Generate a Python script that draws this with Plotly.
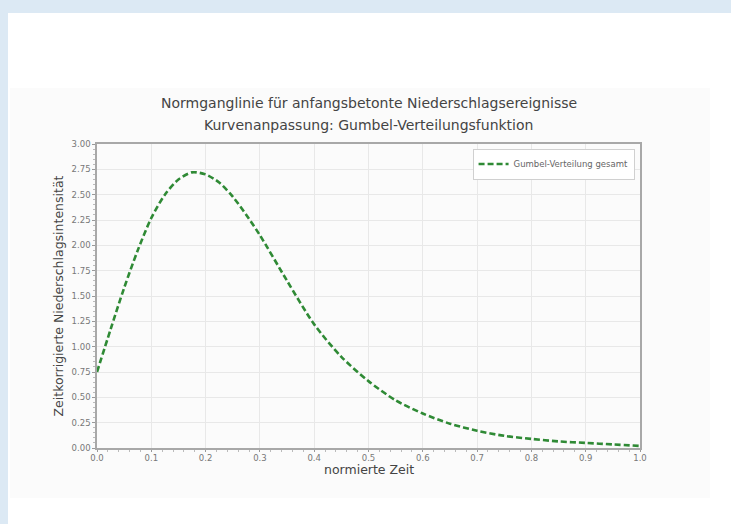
import plotly.graph_objects as go

# data
zeit = [0.0, 0.025, 0.05, 0.075, 0.1, 0.125, 0.15, 0.175, 0.2, 0.225, 0.25, 0.275, 0.3,
        0.35, 0.4, 0.45, 0.5, 0.55, 0.6, 0.65, 0.7, 0.75, 0.8, 0.85, 0.9, 0.95, 1.0]
intensitaet = [0.75, 1.17, 1.58, 1.95, 2.27, 2.50, 2.65, 2.72, 2.70, 2.62, 2.48, 2.30, 2.10,
               1.65, 1.22, 0.90, 0.66, 0.47, 0.34, 0.24, 0.17, 0.12, 0.09, 0.065, 0.05, 0.035, 0.02]
series_name = "Gumbel-Verteilung gesamt"
title_1 = "Normganglinie für anfangsbetonte Niederschlagsereignisse"
title_2 = "Kurvenanpassung: Gumbel-Verteilungsfunktion"
x_title = "normierte Zeit"
y_title = "Zeitkorrigierte Niederschlagsintensität"

W, H = 731, 524
L, R, T, B = 97, 91, 144, 76
PW, PH = W - L - R, H - T - B


def px(x):
    return (x - L) / PW


def py(y):
    return (H - B - y) / PH


fig = go.Figure()
fig.add_trace(go.Scatter(
    x=zeit, y=intensitaet, mode="lines", name=series_name,
    line=dict(color="#2f8a35", width=2.6, dash="6px,3px", shape="spline", smoothing=0.8),
))

shapes = [
    # page background strips
    dict(type="rect", xref="paper", yref="paper", x0=px(0), x1=px(W), y0=py(13), y1=py(0),
         fillcolor="#dce9f4", line_width=0, layer="below"),
    dict(type="rect", xref="paper", yref="paper", x0=px(0), x1=px(8), y0=py(H), y1=py(0),
         fillcolor="#dce9f4", line_width=0, layer="below"),
    # figure image area
    dict(type="rect", xref="paper", yref="paper", x0=px(10), x1=px(710), y0=py(498), y1=py(88),
         fillcolor="#fbfbfb", line_width=0, layer="below"),
]

fig.update_layout(
    width=W, height=H,
    margin=dict(l=L, r=R, t=T, b=B),
    paper_bgcolor="white", plot_bgcolor="white",
    font=dict(family="DejaVu Sans", color="#555"),
    shapes=shapes,
    showlegend=True,
    legend=dict(x=0.99, y=0.985, xanchor="right", yanchor="top",
                bgcolor="white", bordercolor="#d0d0d0", borderwidth=1,
                font=dict(size=8.5, color="#666"), itemwidth=30),
    annotations=[
        dict(text=title_1, xref="paper", yref="paper", x=0.5, y=py(103), xanchor="center",
             yanchor="middle", showarrow=False, font=dict(size=14, color="#444")),
        dict(text=title_2, xref="paper", yref="paper", x=0.5, y=py(125), xanchor="center",
             yanchor="middle", showarrow=False, font=dict(size=14, color="#444")),
        dict(text=x_title, xref="paper", yref="paper", x=0.5, y=py(469), xanchor="center",
             yanchor="middle", showarrow=False, font=dict(size=12.5, color="#444")),
    ],
)

fig.update_xaxes(
    range=[0, 1], dtick=0.1, tickformat=".1f",
    showgrid=True, gridcolor="#e8e8e8", gridwidth=1,
    showline=True, linecolor="#a8a8a8", linewidth=1.5, mirror=True,
    ticks="outside", ticklen=2, tickcolor="#999",
    tickfont=dict(size=8.5, color="#777"), ticklabelstandoff=-1,
    minor=dict(ticks="outside", ticklen=2, dtick=0.02, tickcolor="#bbb", showgrid=False),
    zeroline=False,
)
fig.update_yaxes(
    range=[0, 3], dtick=0.25, tickformat=".2f",
    showgrid=True, gridcolor="#e8e8e8", gridwidth=1,
    showline=True, linecolor="#a8a8a8", linewidth=1.5, mirror=True,
    ticks="outside", ticklen=3, tickcolor="#999",
    tickfont=dict(size=8.5, color="#777"),
    minor=dict(ticks="outside", ticklen=2, dtick=0.05, tickcolor="#bbb", showgrid=False),
    title=dict(text=y_title, font=dict(size=12.5, color="#444"), standoff=5),
    zeroline=False,
)

fig.write_html("out.html", config={"displayModeBar": False},
               post_script="document.body.style.margin='0px';")
